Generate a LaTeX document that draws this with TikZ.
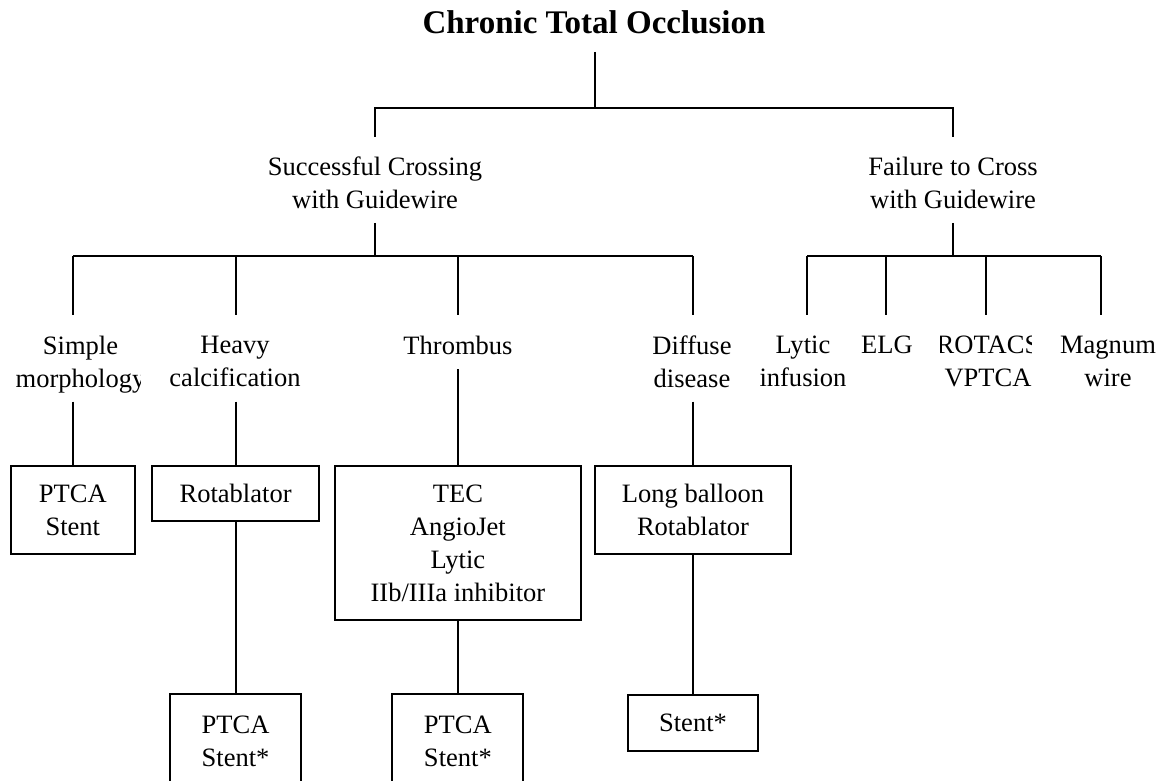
\documentclass[tikz,border=0pt]{standalone}
\usepackage{fontspec}
\setmainfont{Liberation Serif}
\begin{document}
\begin{tikzpicture}[x=0.75pt,y=-0.75pt, line width=1.5pt,
  txt/.style={font=\fontsize{19.9}{24.75}\selectfont},
  lbl/.style={txt, align=center, inner sep=0pt, anchor=north},
  box/.style={txt, draw, align=center, inner sep=0pt, line width=1.5pt}]
\clip (0,0) rectangle (1165,781);

% title
\node[font=\fontsize{24.75}{30}\selectfont\bfseries, anchor=base, inner sep=0pt] (title) at (594,34) {Chronic Total Occlusion};

% level 1
\node[lbl] (succ) at (375,156) {Successful Crossing\\with Guidewire};
\node[lbl] (fail) at (953,156) {Failure to Cross\\with Guidewire};

% level 2
\begin{scope}
  \clip (0,320) rectangle (140,400);
  \node[lbl] (simple) at (80.5,334.7) {Simple\\morphology};
\end{scope}
\node[lbl] (heavy) at (235,334.7) {Heavy\\calcification};
\node[lbl] (thromb) at (458,334.7) {Thrombus};
\node[lbl] (diffuse) at (692,334.7) {Diffuse\\disease};
\node[lbl] (lytic) at (803,334.7) {Lytic\\infusion};
\node[lbl] (elg) at (887,334.7) {ELG};
\begin{scope}
  \clip (940,320) rectangle (1031,400);
  \node[lbl] (rotacs) at (988,334.7) {ROTACS\\VPTCA};
\end{scope}
\node[lbl] (magnum) at (1108,334.7) {Magnum\\wire};

% boxes
\node[box, minimum width=93pt, minimum height=66.45pt] (b1) at (72.8,510) {PTCA\\Stent};
\node[box, minimum width=125.25pt, minimum height=41.5pt] (b2) at (235.6,493.3) {Rotablator};
\node[box, minimum width=184.5pt, minimum height=115.7pt] (b3) at (457.9,542.85) {TEC\\AngioJet\\Lytic\\IIb/IIIa inhibitor};
\node[box, minimum width=147.5pt, minimum height=66pt] (b4) at (693,510) {Long balloon\\Rotablator};
\node[box, minimum width=97.7pt, minimum height=70.5pt] (b5) at (235.6,741) {PTCA\\Stent*};
\node[box, minimum width=98.25pt, minimum height=70.5pt] (b6) at (457.9,741) {PTCA\\Stent*};
\node[box, minimum width=97.95pt, minimum height=41.8pt] (b7) at (693,722.8) {Stent*};

% junction coordinates
\coordinate (t0) at (595,52);
\coordinate (t1) at (595,108);
\coordinate (l1) at (375,108);
\coordinate (r1) at (953,108);
\coordinate (l1b) at (375,137);
\coordinate (r1b) at (953,137);
\coordinate (s0) at (375,223);
\coordinate (s1) at (375,256);
\coordinate (f0) at (953,223);
\coordinate (f1) at (953,256);
\coordinate (ha) at (72.8,256);
\coordinate (hb) at (235.6,256);
\coordinate (hc) at (457.9,256);
\coordinate (hd) at (693,256);
\coordinate (ra) at (807,256);
\coordinate (rb) at (886,256);
\coordinate (rc) at (986,256);
\coordinate (rd) at (1101,256);
\coordinate (ha2) at (72.8,315);
\coordinate (hb2) at (235.6,315);
\coordinate (hc2) at (457.9,315);
\coordinate (hd2) at (693,315);
\coordinate (ra2) at (807,315);
\coordinate (rb2) at (886,315);
\coordinate (rc2) at (986,315);
\coordinate (rd2) at (1101,315);
\coordinate (ua) at (72.8,401.7);
\coordinate (ub) at (235.6,401.7);
\coordinate (uc) at (457.9,369);
\coordinate (ud) at (693,401.7);

% connectors
\draw (t0) -- (t1);
\draw (l1b) -- (l1) -- (r1) -- (r1b);
\draw (s0) -- (s1);
\draw (f0) -- (f1);
\draw (ha) -- (hd);
\draw (ra) -- (rd);
\foreach \a/\b in {ha/ha2,hb/hb2,hc/hc2,hd/hd2,ra/ra2,rb/rb2,rc/rc2,rd/rd2}
  \draw (\a) -- (\b);
\draw (ua) -- (b1.north);
\draw (ub) -- (b2.north);
\draw (uc) -- (b3.north);
\draw (ud) -- (b4.north);
\draw (b2.south) -- (b5.north);
\draw (b3.south) -- (b6.north);
\draw (b4.south) -- (b7.north);
\end{tikzpicture}
\end{document}
